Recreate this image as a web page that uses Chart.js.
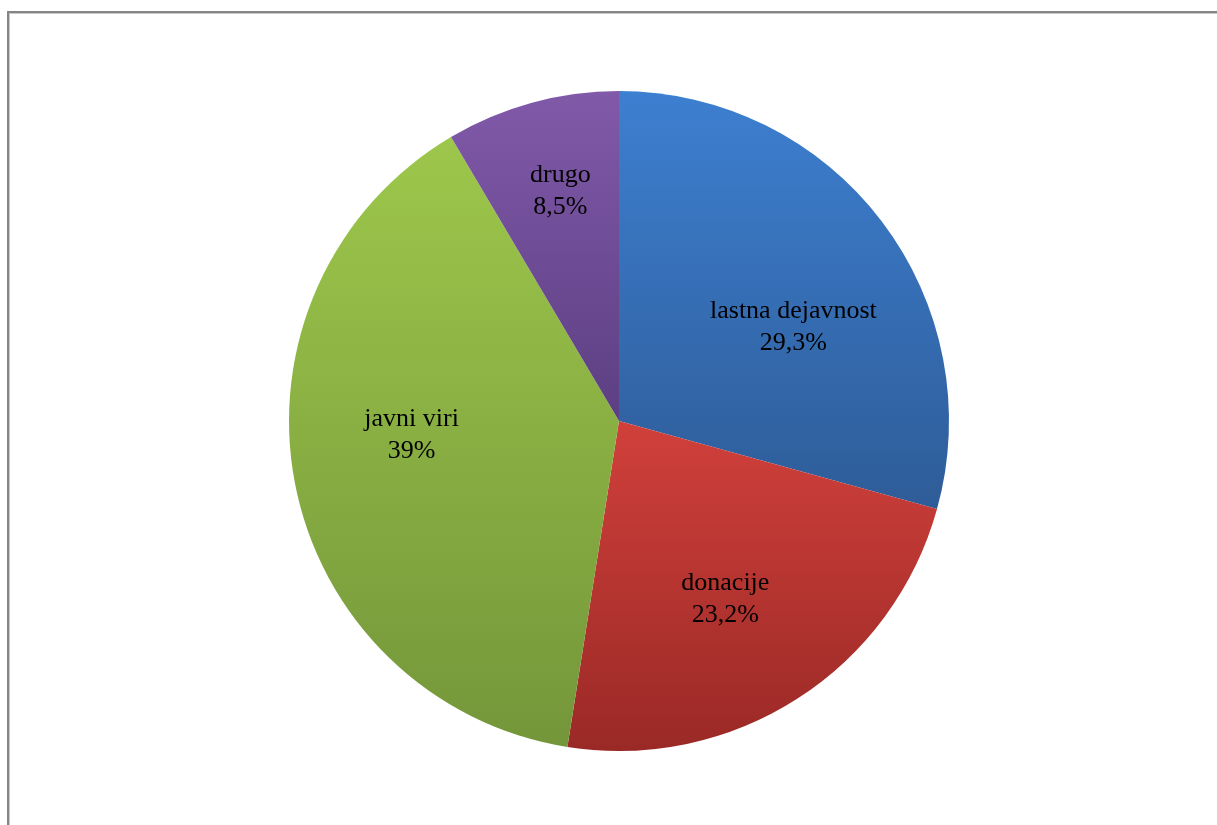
<!DOCTYPE html>
<html>
<head>
<meta charset="utf-8">
<script src="https://cdn.jsdelivr.net/npm/chart.js@4/dist/chart.umd.min.js"></script>
<style>
  html, body { margin: 0; padding: 0; background: #fff; overflow: hidden; }
  #okvir {
    position: absolute; left: 7px; top: 11px; width: 1300px; height: 900px;
    border-left: 2px solid #858585; border-top: 2px solid #858585;
    box-shadow: inset 1px 1px 0 #c8c8c8;
  }
  #wrap { position: absolute; left: 0; top: 0; width: 1217px; height: 825px; }
</style>
</head>
<body>
<div id="okvir"></div>
<div id="wrap"><canvas id="grafViri"></canvas></div>
<script>
// viri financiranja (v %)
const kategorije = ["lastna dejavnost", "donacije", "javni viri", "drugo"];
const deleži = [29.3, 23.2, 39, 8.5];

// barve rezin: zgoraj svetlejša, spodaj temnejša
const barveZgoraj = ["#3d7fd0", "#d1403b", "#9dc74b", "#8159a9"];
const barveSpodaj = ["#2e5c98", "#9a2926", "#74963a", "#5c3f82"];

// položaj napisov: delež polmera in zamik kota (stopinje)
const napisPolmer = [0.6, 0.63, 0.63, 0.72];
const napisZamik = [9, 2, 7, 1];

function oblikuj(v) {
    return String(v).replace(".", ",") + "%";
}

// gradient čez višino posamezne rezine
const gradientRezin = {
    id: "gradientRezin",
    beforeDatasetsDraw(chart) {
        const ctx = chart.ctx;
        chart.getDatasetMeta(0).data.forEach((arc, i) => {
            const p = arc.getProps(["x", "y", "startAngle", "endAngle", "outerRadius"], true);
            let minY = p.y, maxY = p.y;
            for (let k = 0; k <= 60; k++) {
                const a = p.startAngle + (p.endAngle - p.startAngle) * k / 60;
                const yy = p.y + Math.sin(a) * p.outerRadius;
                minY = Math.min(minY, yy);
                maxY = Math.max(maxY, yy);
            }
            const g = ctx.createLinearGradient(0, minY, 0, maxY);
            g.addColorStop(0, barveZgoraj[i]);
            g.addColorStop(1, barveSpodaj[i]);
            if (Object.isFrozen(arc.options)) {
                arc.options = Object.assign({}, arc.options, { backgroundColor: g });
            } else {
                arc.options.backgroundColor = g;
            }
        });
    }
};

// napisi z imenom in deležem znotraj rezin
const napisiRezin = {
    id: "napisiRezin",
    afterDatasetsDraw(chart) {
        const ctx = chart.ctx;
        ctx.save();
        ctx.font = "26px 'Liberation Serif', 'Times New Roman', serif";
        ctx.fillStyle = "#000";
        ctx.textAlign = "center";
        ctx.textBaseline = "middle";
        chart.getDatasetMeta(0).data.forEach((arc, i) => {
            const p = arc.getProps(["x", "y", "startAngle", "endAngle", "outerRadius"], true);
            const sred = (p.startAngle + p.endAngle) / 2 + napisZamik[i] * Math.PI / 180;
            const r = p.outerRadius * napisPolmer[i];
            const cx = p.x + Math.cos(sred) * r;
            const cy = p.y + Math.sin(sred) * r;
            ctx.fillText(kategorije[i], cx, cy - 16);
            ctx.fillText(oblikuj(deleži[i]), cx, cy + 16);
        });
        ctx.restore();
    }
};

new Chart(document.getElementById("grafViri"), {
    type: "pie",
    data: {
        labels: kategorije,
        datasets: [{
            data: deleži,
            backgroundColor: barveZgoraj,
            borderWidth: 0
        }]
    },
    options: {
        responsive: true,
        maintainAspectRatio: false,
        animation: false,
        layout: { padding: { top: 91, bottom: 74, left: 289, right: 268 } },
        plugins: {
            legend: { display: false },
            tooltip: { enabled: false }
        }
    },
    plugins: [gradientRezin, napisiRezin]
});
</script>
</body>
</html>
